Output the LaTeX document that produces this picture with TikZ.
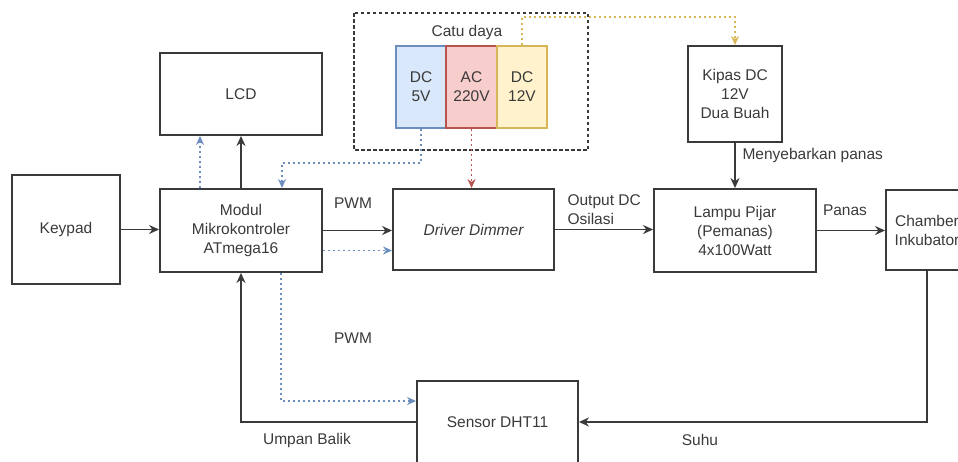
\documentclass[tikz,border=0pt]{standalone}
\usepackage{fontspec}
\setmainfont{Liberation Sans}
\usetikzlibrary{arrows.meta}

\definecolor{txtgray}{HTML}{3A3A3A}
\definecolor{blfill}{HTML}{DAE8FC}
\definecolor{blline}{HTML}{6C8EBF}
\definecolor{rdfill}{HTML}{F8CECC}
\definecolor{rdline}{HTML}{B85450}
\definecolor{ylfill}{HTML}{FFF2CC}
\definecolor{ylline}{HTML}{D6B656}

\begin{document}
\begin{tikzpicture}[x=1pt, y=-1pt,
    font=\fontsize{15.5}{19}\selectfont, text=txtgray,
    block/.style={draw=txtgray, line width=1.9pt, align=center, inner sep=2pt},
    supply/.style={draw=#1line, fill=#1fill, line width=1.5pt, align=center,
        minimum width=50pt, minimum height=82pt},
    link/.style={draw=txtgray, line width=1.6pt, -{Stealth[length=10pt,width=9pt]}},
    dotlink/.style={draw=#1, line width=1.8pt, dash pattern=on 2pt off 3pt,
        -{Stealth[length=9pt,width=8pt,open]}}]

    % Fix the frame
    \useasboundingbox (0,0) rectangle (958,461);

    % Power supply group
    \draw[txtgray, line width=2pt, dash pattern=on 3.5pt off 2.5pt]
        (354,13) rectangle (588,150);
    \node (catu) at (467,32) {Catu daya};
    \node[supply=bl] (dc5) at (421,87) {DC\\5V};
    \node[supply=rd, minimum width=51pt] (ac) at (471.5,87) {AC\\220V};
    \node[supply=yl] (dc12) at (522,87) {DC\\12V};

    % Main blocks
    \node[block, minimum width=108pt, minimum height=109pt] (keypad) at (66,229.5) {Keypad};
    \node[block, minimum width=162pt, minimum height=83pt] (modul) at (241,230.5)
        {Modul\\Mikrokontroler\\ATmega16};
    \node[block, minimum width=162pt, minimum height=82pt] (lcd) at (241,94) {LCD};
    \node[block, minimum width=161pt, minimum height=81pt] (driver) at (473.5,229.5)
        {\itshape Driver Dimmer};
    \node[block, minimum width=162pt, minimum height=83pt] (lampu) at (735,230.5)
        {Lampu Pijar\\(Pemanas)\\4x100Watt};
    \node[block, minimum width=82pt, minimum height=80pt] (chamber) at (927,230)
        {Chamber\\Inkubator};
    \node[block, minimum width=94pt, minimum height=96pt] (kipas) at (735,94)
        {Kipas DC\\12V\\Dua Buah};
    \node[block, minimum width=161pt, minimum height=82pt] (sensor) at (497.5,422)
        {Sensor DHT11};

    % Solid signal lines
    \draw[link] (keypad.east) -- (keypad.east -| modul.west);
    \draw[link] (modul) -- (lcd);
    \draw[link] (modul.east) -- (modul.east -| driver.west);
    \draw[link] (driver.east) -- (driver.east -| lampu.west);
    \draw[link] (kipas) -- (lampu);
    \draw[link] (lampu.east) -- (lampu.east -| chamber.west);
    \draw[link] (chamber.south) |- (sensor.east);
    \draw[link] (sensor.west) -| (modul.south);

    % Dotted power and PWM lines
    \draw[dotlink=blline] ([xshift=-41pt]modul.north) -- ([xshift=-41pt]lcd.south);
    \draw[dotlink=blline] (dc5.south) -- ++(0,34) -| ([xshift=41pt]modul.north);
    \draw[dotlink=blline] ([yshift=-20pt]modul.east) -- ([yshift=-20pt]modul.east -| driver.west);
    \draw[dotlink=blline] ([xshift=40pt]modul.south) |- ([yshift=21pt]sensor.west);
    \draw[dotlink=rdline] (ac.south) -- (ac.south |- driver.north);
    \draw[dotlink=ylline] (dc12.north) -- ++(0,-28) -| (kipas.north);

    % Connector labels
    \node (pwmtop) at (353,203) {PWM};
    \node (pwmbot) at (353,338) {PWM};
    \node[anchor=west, align=left] (output) at (564,210) {Output DC\\Osilasi};
    \node[anchor=west] (sebar) at (739,155) {Menyebarkan panas};
    \node (panas) at (845,210) {Panas};
    \node (suhu) at (700,440) {Suhu};
    \node (umpan) at (307,440) {Umpan Balik};

\end{tikzpicture}
\end{document}
